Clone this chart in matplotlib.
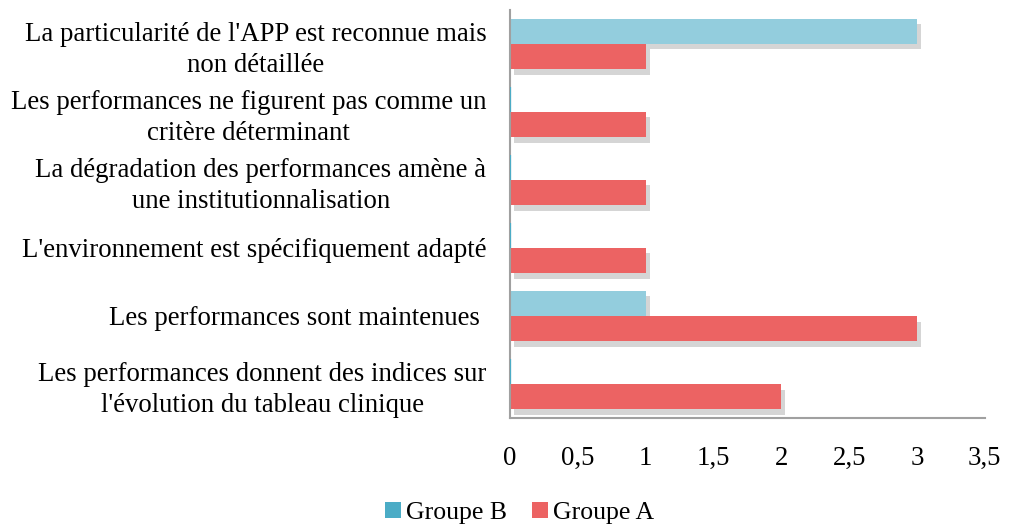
import matplotlib
matplotlib.use("Agg")
import matplotlib.pyplot as plt
import matplotlib.patheffects as pe
from matplotlib.patches import Patch
import numpy as np

categories = [
    "La particularité de l'APP est reconnue mais\nnon détaillée",
    "Les performances ne figurent pas comme un\ncritère déterminant",
    "La dégradation des performances amène à\nune institutionnalisation",
    "L'environnement est spécifiquement adapté",
    "Les performances sont maintenues ",
    "Les performances donnent des indices sur\nl'évolution du tableau clinique",
]
groupe_b = [3, 0, 0, 0, 1, 0]
groupe_a = [1, 1, 1, 1, 3, 2]
xticks = [0, 0.5, 1, 1.5, 2, 2.5, 3, 3.5]
xtick_labels = ["0", "0,5", "1", "1,5", "2", "2,5", "3", "3,5"]

plt.rcParams['font.family'] = ['Liberation Serif', 'DejaVu Serif']

fig = plt.figure(figsize=(10.09, 5.26), dpi=100)
ax = fig.add_axes([0.5055, 0.2053, 0.4705, 0.776])

color_b = "#93CDDD"
color_a = "#EC6363"
legend_b = "#4BACC6"

n = len(categories)
y = np.arange(n)
h = 0.37
shadow = [pe.SimplePatchShadow(offset=(3, -4), shadow_rgbFace="#888888", alpha=0.35), pe.Normal()]

bars_b = ax.barh(y - h / 2, groupe_b, height=h, color=color_b, edgecolor=legend_b, linewidth=1.6)
bars_a = ax.barh(y + h / 2, groupe_a, height=h, color=color_a, linewidth=0)
for b in list(bars_b) + list(bars_a):
    if b.get_width() > 0:
        b.set_path_effects(shadow)
        b.set_edgecolor(b.get_facecolor())
        b.set_linewidth(0)
    else:
        b.set_zorder(3)

ax.set_ylim(n - 0.5, -0.5)
ax.set_xlim(0, 3.5)
ax.set_yticks(y)
ax.set_yticklabels(categories, fontsize=19.3, multialignment='center', linespacing=1.3)
ax.set_xticks(xticks)
ax.set_xticklabels(xtick_labels, fontsize=19.3)
ax.tick_params(axis='y', length=0, pad=17)
ax.tick_params(axis='x', length=0, pad=20)

for s in ["top", "right"]:
    ax.spines[s].set_visible(False)
for s in ["left", "bottom"]:
    ax.spines[s].set_color("#A0A0A0")
    ax.spines[s].set_linewidth(1.5)

handles = [Patch(facecolor=legend_b, label="Groupe B"), Patch(facecolor=color_a, label="Groupe A")]
fig.legend(handles=handles, loc="center", bbox_to_anchor=(0.515, 0.025), ncol=2, frameon=False,
           fontsize=18.5, handlelength=0.6, handleheight=0.6, handletextpad=0.2, columnspacing=1.0)

fig.savefig("out.png", dpi=100)
